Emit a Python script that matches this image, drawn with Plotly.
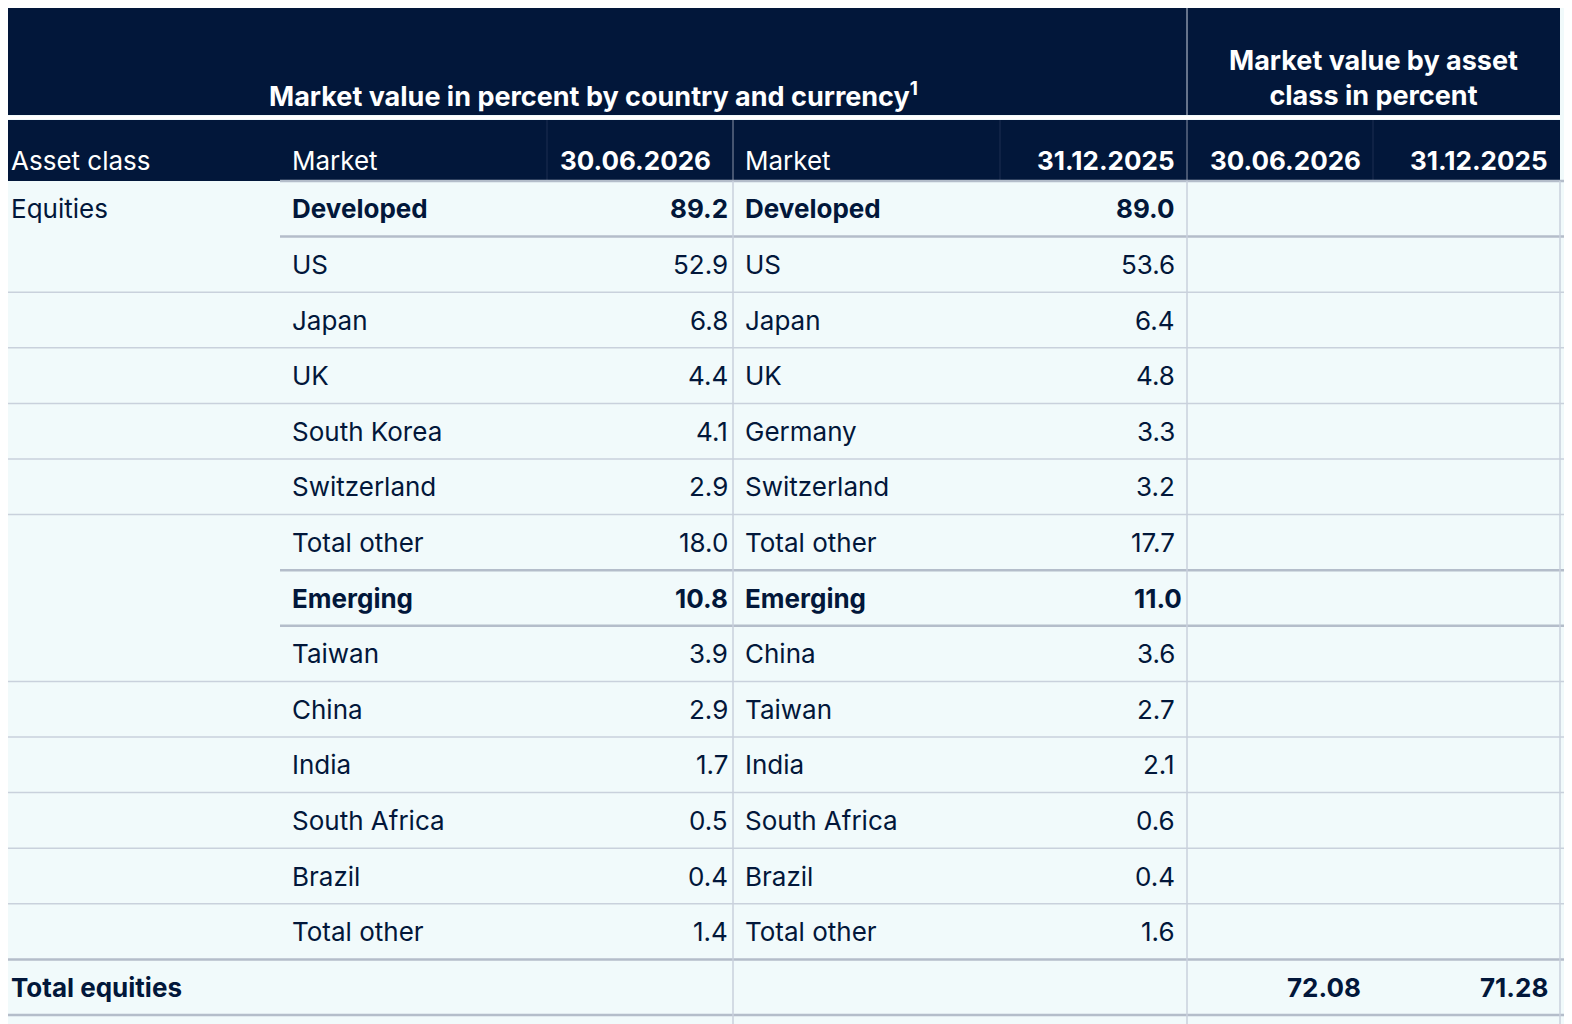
import plotly.graph_objs as go
import numpy             as np


## table content

navy  = '#02173a'
light = '#f1fafb'
grid  = '#c9d1dc'
thick = '#b4bdca'

# column boundaries in pixels
cols = [0, 280, 547, 733, 1000, 1187, 1373, 1560]

rows = [
  # (label, market 1, value 1, market 2, value 2, bold)
  ('Equities', 'Developed',    '89.2', 'Developed',    '89.0', True),
  ('',         'US',           '52.9', 'US',           '53.6', False),
  ('',         'Japan',        '6.8',  'Japan',        '6.4',  False),
  ('',         'UK',           '4.4',  'UK',           '4.8',  False),
  ('',         'South Korea',  '4.1',  'Germany',      '3.3',  False),
  ('',         'Switzerland',  '2.9',  'Switzerland',  '3.2',  False),
  ('',         'Total other',  '18.0', 'Total other',  '17.7', False),
  ('',         'Emerging',     '10.8', 'Emerging',     '11.0', True),
  ('',         'Taiwan',       '3.9',  'China',        '3.6',  False),
  ('',         'China',        '2.9',  'Taiwan',       '2.7',  False),
  ('',         'India',        '1.7',  'India',        '2.1',  False),
  ('',         'South Africa', '0.5',  'South Africa', '0.6',  False),
  ('',         'Brazil',       '0.4',  'Brazil',       '0.4',  False),
  ('',         'Total other',  '1.4',  'Total other',  '1.6',  False),
]

totals = ('Total equities', '72.08', '71.28')

y_body   = 181.0
row_h    = 55.6
font     = 'Inter'
offset   = 8  # the page puts the figure 8px in from the corner


## helpers

def _text(x, y, s, anchor='left', bold=False, color=navy, size=26):
  if bold:
    s = '<b>%s</b>' % s
  return dict(x=x, y=y, text=s, xanchor=anchor, yanchor='middle', showarrow=False,
              font=dict(family=font, size=size, color=color))


def _line(x0, x1, y0, y1, color=grid, width=1.5):
  return dict(type='line', x0=x0, x1=x1, y0=y0, y1=y1, line=dict(color=color, width=width), layer='above')


def _rect(x0, x1, y0, y1, color):
  return dict(type='rect', x0=x0, x1=x1, y0=y0, y1=y1, fillcolor=color, line=dict(width=0), layer='below')


shapes = []
annotations = []

n = len(rows) + 1
y_end = y_body + n * row_h

# backgrounds
shapes.append(_rect(-10, 1600, -10, 1100, light))
shapes.append(_rect(-10, 1560, 3, 115, navy))
shapes.append(_rect(-10, 1560, 120, y_body, navy))

# header separators
shapes.append(_line(-10, 1560, 117.5, 117.5, color='white', width=3))
shapes.append(_line(cols[5], cols[5], 3, 115, color='#c9d1dc', width=1))
for c in [cols[2], cols[4], cols[6]]:
  shapes.append(_line(c, c, 120, y_body, color='#1c2f50', width=1))
for c in [cols[3], cols[5]]:
  shapes.append(_line(c, c, 120, y_body, color='#8993a6', width=1))

# header texts
annotations.append(_text(593, 95,
                         'Market value in percent by country and currency<sup>1</sup>',
                         anchor='center', bold=True, color='white', size=27))
annotations.append(_text((cols[5] + cols[7]) / 2, 78,
                         'Market value by asset<br>class in percent',
                         anchor='center', bold=True, color='white', size=27))
header_y = 160
annotations.append(_text(9, header_y, 'Asset class', color='white'))
annotations.append(_text(cols[1] + 10, header_y, 'Market', color='white'))
annotations.append(_text(cols[3] - 20, header_y, '30.06.2026', anchor='right', bold=True, color='white'))
annotations.append(_text(cols[3] + 10, header_y, 'Market', color='white'))
annotations.append(_text(cols[5] - 10, header_y, '31.12.2025', anchor='right', bold=True, color='white'))
annotations.append(_text(cols[6] - 10, header_y, '30.06.2026', anchor='right', bold=True, color='white'))
annotations.append(_text(cols[7] - 10, header_y, '31.12.2025', anchor='right', bold=True, color='white'))

# body
shapes.append(_line(cols[1], 1600, y_body, y_body, color=thick, width=2.5))
for i, (label, m1, v1, m2, v2, bold) in enumerate(rows):
  yc = y_body + (i + 0.5) * row_h
  annotations.append(_text(9, yc, label))
  annotations.append(_text(cols[1] + 10, yc, m1, bold=bold))
  annotations.append(_text(cols[3] - 3, yc, v1, anchor='right', bold=bold))
  annotations.append(_text(cols[3] + 10, yc, m2, bold=bold))
  annotations.append(_text(cols[5] - 3 if bold and i == 7 else cols[5] - 10, yc, v2, anchor='right', bold=bold))

  yb = y_body + (i + 1) * row_h
  if bold or m1 == 'Total other':
    x0 = -10 if i == len(rows) - 1 else cols[1]
    shapes.append(_line(x0, 1600, yb, yb, color=thick, width=2.5))
  else:
    shapes.append(_line(-10, 1600, yb, yb))

yc = y_body + (n - 0.5) * row_h
annotations.append(_text(9, yc, totals[0], bold=True))
annotations.append(_text(cols[6] - 10, yc, totals[1], anchor='right', bold=True))
annotations.append(_text(cols[7] - 10, yc, totals[2], anchor='right', bold=True))
shapes.append(_line(-10, 1600, y_end, y_end, color=thick, width=2.5))

# vertical lines in body
for c in [cols[3], cols[5], cols[7]]:
  shapes.append(_line(c, c, y_body, 1100))


layout = go.Layout(
  width=1572,
  height=1024,
  margin=dict(l=0, r=0, t=0, b=0),
  paper_bgcolor=light,
  plot_bgcolor=light,
  xaxis={'range': [offset, 1572 + offset], 'visible': False, 'fixedrange': True},
  yaxis={'range': [1024 + offset, offset], 'visible': False, 'fixedrange': True},
  shapes=shapes,
  annotations=annotations,
  showlegend=False
)

fig = go.Figure(data=[go.Scatter(x=[], y=[])], layout=layout)
fig.write_html('out.html')
